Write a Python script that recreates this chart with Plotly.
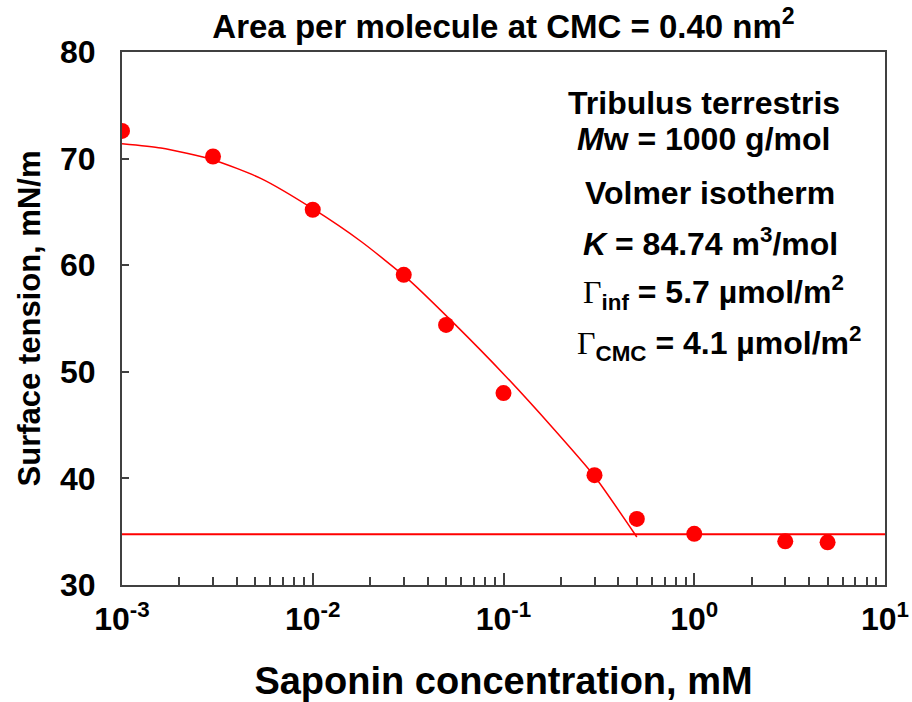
import plotly.graph_objects as go

# measured data
conc = [0.001, 0.003, 0.01, 0.03, 0.05, 0.1, 0.3, 0.5, 1, 3, 5]
tension = [72.6, 70.2, 65.2, 59.1, 54.4, 48.0, 40.3, 36.2, 34.8, 34.1, 34.0]

# Volmer fit curve
fit_conc = [0.001, 0.0016, 0.003, 0.0054, 0.01, 0.018, 0.032, 0.056, 0.1, 0.18, 0.3, 0.5]
fit_tension = [71.4, 71.0, 69.9, 68.1, 65.3, 62.2, 58.6, 54.4, 49.8, 44.8, 40.2, 34.5]

# plateau above CMC
plateau_conc = [0.001, 10]
plateau_tension = [34.75, 34.75]

xtick_vals = [0.001, 0.01, 0.1, 1, 10]
xtick_text = ["10<sup>-3</sup>", "10<sup>-2</sup>", "10<sup>-1</sup>", "10<sup>0</sup>", "10<sup>1</sup>"]

FONT = "Liberation Sans, Arial, sans-serif"
RED = "#ff0000"
AX = "#404040"

fig = go.Figure()
fig.add_trace(go.Scatter(x=plateau_conc, y=plateau_tension, mode="lines",
                         line=dict(color=RED, width=2), showlegend=False))
fig.add_trace(go.Scatter(x=fit_conc, y=fit_tension, mode="lines",
                         line=dict(color=RED, width=1.5, shape="spline", smoothing=0.6),
                         showlegend=False))
fig.add_trace(go.Scatter(x=conc, y=tension, mode="markers",
                         marker=dict(color=RED, size=16), showlegend=False))

G = '<span style="font-family:Liberation Serif, Times New Roman, serif;font-weight:normal">Γ</span>'
lines = [
    ("<b>Tribulus terrestris</b>", 704, 103),
    ("<b><i>M</i>w = 1000 g/mol</b>", 703, 139),
    ("<b>Volmer isotherm</b>", 710, 193),
    ("<b><i>K</i> = 84.74 m<sup>3</sup>/mol</b>", 710, 242),
    ("<b>" + G + "<sub>inf</sub> = 5.7 µmol/m<sup>2</sup></b>", 713, 292),
    ("<b>" + G + "<sub>CMC</sub> = 4.1 µmol/m<sup>2</sup></b>", 719, 343),
]
L, R, T, B = 122, 885, 52, 585
for txt, px, py in lines:
    fig.add_annotation(text=txt, xref="paper", yref="paper",
                       x=(px - L) / (R - L), y=(B - py) / (B - T),
                       xanchor="center", yanchor="middle", showarrow=False,
                       font=dict(family=FONT, size=32, color="black"))

fig.update_layout(
    width=912, height=702,
    margin=dict(l=L, r=912 - R, t=T, b=702 - B),
    paper_bgcolor="white", plot_bgcolor="white",
    font=dict(family=FONT, color="black"),
    title=dict(text="<b>Area per molecule at CMC = 0.40 nm<sup>2</sup></b>",
               x=0.5, xref="paper", y=1 - 26 / 702, yanchor="middle",
               font=dict(family=FONT, size=33, color="black")),
    xaxis=dict(type="log", range=[-3, 1], tickmode="array",
               tickvals=xtick_vals, ticktext=xtick_text, automargin=False,
               ticks="inside", ticklen=12, tickwidth=1.5, tickcolor=AX,
               minor=dict(ticks="inside", ticklen=8, tickwidth=1.5, tickcolor=AX,
                          tickmode="linear", dtick="D1", showgrid=False),
               showline=True, linecolor=AX, linewidth=2, mirror=True,
               showgrid=False, zeroline=False,
               tickfont=dict(family=FONT, size=32, color="black", weight="bold"),
               ticklabelstandoff=5,
               title=dict(text="<b>Saponin concentration, mM</b>", standoff=34,
                          font=dict(family=FONT, size=38, color="black"))),
    yaxis=dict(range=[30, 80], dtick=10, tick0=30, automargin=False,
               ticks="inside", ticklen=7, tickwidth=1.5, tickcolor=AX,
               showline=True, linecolor=AX, linewidth=2, mirror=True,
               showgrid=False, zeroline=False,
               tickfont=dict(family=FONT, size=32, color="black", weight="bold"),
               ticklabelstandoff=18,
               title=dict(text="<b>Surface tension, mN/m</b>", standoff=10,
                          font=dict(family=FONT, size=31, color="black"))),
)

fig.write_html("out.html")
